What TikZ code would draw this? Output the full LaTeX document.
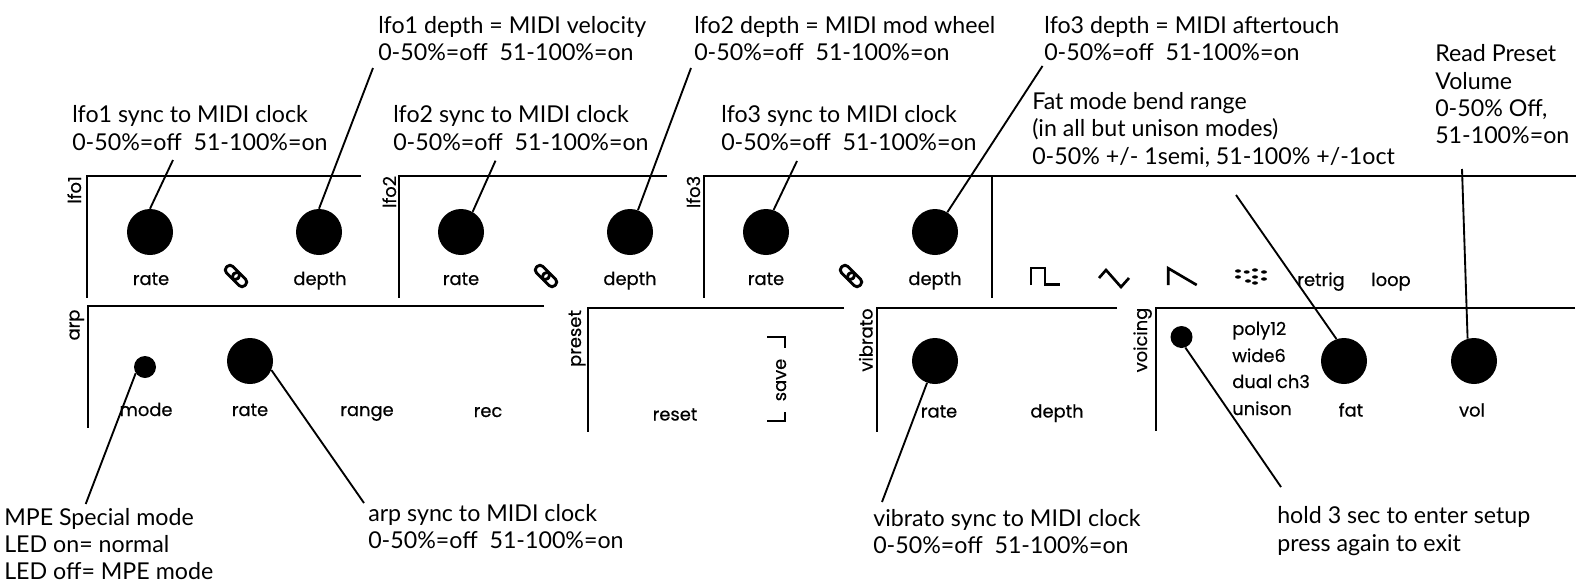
\documentclass[tikz,border=0pt]{standalone}
\usepackage{fontspec}
\setmainfont{Lato}
\newfontfamily\labfont[FakeBold=0.5]{Poppins}
\begin{document}
\begin{tikzpicture}[x=0.75pt,y=-0.75pt,
  frame/.style={line width=1.8pt,line cap=butt},
  conn/.style={line width=1.4pt},
  knob/.style={circle,fill=black,minimum size=34.5pt,inner sep=0pt},
  led/.style={circle,fill=black,minimum size=16.5pt,inner sep=0pt},
  note/.style={anchor=west,align=left,inner sep=0pt,font=\fontsize{17.4}{20.5}\selectfont},
  lab/.style={inner sep=0pt,anchor=base,font=\labfont\fontsize{13.4}{15}\selectfont},
  sect/.style={lab,rotate=90},
  wave/.style={line width=2pt},
  link/.style={line width=2.2pt,rounded corners=3pt}]
\useasboundingbox (0,0) rectangle (1576,582);
% frames
\draw[frame] (361,176) -- (87,176) -- (87,298);
\draw[frame] (667,176) -- (399,176) -- (399,298);
\draw[frame] (1576,176) -- (704,176) -- (704,298);
\draw[frame] (992,176) -- (992,298);
\draw[frame] (544,306) -- (88,306) -- (88,428);
\draw[frame] (844,308) -- (588,308) -- (588,432);
\draw[frame] (1117,308) -- (877,308) -- (877,432);
\draw[frame] (1575,308) -- (1156,308) -- (1156,431);
% section labels
\node[sect] (slfo1) at (81,190) {lfo1};
\node[sect] (slfo2) at (396,192) {lfo2};
\node[sect] (slfo3) at (700,192) {lfo3};
\node[sect] (sarp) at (79.5,325) {arp};
\node[sect] (spreset) at (581,338.5) {preset};
\node[sect] (svib) at (872.5,340) {vibrato};
\node[sect] (svoice) at (1147,340) {voicing};
% knobs
\node[knob] (k1) at (150,232) {};
\node[knob] (k2) at (319,232) {};
\node[knob] (k3) at (461,232) {};
\node[knob] (k4) at (630,232) {};
\node[knob] (k5) at (766,232) {};
\node[knob] (k6) at (935,232) {};
\node[knob] (k7) at (250,361) {};
\node[knob] (k8) at (935,361) {};
\node[knob] (k9) at (1344,361) {};
\node[knob] (k10) at (1474,361) {};
\node[led] (l1) at (145,367) {};
\node[led] (l2) at (1181.5,337) {};
% control labels
\node[lab] (t1) at (151,285) {rate};
\node[lab] (t2) at (320,285) {depth};
\node[lab] (t3) at (461,285) {rate};
\node[lab] (t4) at (630,285) {depth};
\node[lab] (t5) at (766,285) {rate};
\node[lab] (t6) at (935,285) {depth};
\node[lab] (t7) at (146,416) {mode};
\node[lab] (t8) at (250,416) {rate};
\node[lab] (t9) at (367,416) {range};
\node[lab] (t10) at (488,417) {rec};
\node[lab] (t11) at (675,420.5) {reset};
\node[sect] (t12) at (786,380) {save};
\node[lab] (t13) at (939,417.5) {rate};
\node[lab] (t14) at (1057,417.5) {depth};
\node[lab] (t15) at (1321,286) {retrig};
\node[lab] (t16) at (1391,286) {loop};
\node[lab,anchor=base west] (t17) at (1232,335) {poly12};
\node[lab,anchor=base west] (t18) at (1232,362) {wide6};
\node[lab,anchor=base west] (t19) at (1232,388) {dual ch3};
\node[lab,anchor=base west] (t20) at (1232,415) {unison};
\node[lab] (t21) at (1351,416.5) {fat};
\node[lab] (t22) at (1472,416.5) {vol};
% save brackets
\draw[wave] (767,337) -- (785,337) -- (785,348);
\draw[wave] (767,421) -- (785,421) -- (785,412);
% link icons
\foreach \x in {236,546,851}{
  \begin{scope}[shift={(\x,276)},rotate=-45]
    \draw[link] (-13,-4.5) rectangle (3,4.5);
    \draw[link] (-3,-4.5) rectangle (13,4.5);
  \end{scope}
}
% wave icons
\draw[wave] (1031,285) -- (1031,268) -- (1045,268) -- (1045,284.5) -- (1060,284.5);
\draw[wave] (1099,278) -- (1106,270) -- (1121,287) -- (1129,278);
\draw[wave] (1168.3,285) -- (1168.3,268.3) -- (1196.7,285);
\foreach \dx/\dy in {1238/271,1238/277,1246.7/272,1255/270,1255/277,1248/281,1255/283,1264/272,1264/279}{
  \fill (\dx,\dy) ellipse (3 and 1.7);
}
% notes
\node[note] (n1) at (72,128) {lfo1 sync to MIDI clock\\0-50\%=off\ \ 51-100\%=on};
\node[note] (n2) at (378,38.5) {lfo1 depth = MIDI velocity\\0-50\%=off\ \ 51-100\%=on};
\node[note] (n3) at (393,128) {lfo2 sync to MIDI clock\\0-50\%=off\ \ 51-100\%=on};
\node[note] (n4) at (694,38.5) {lfo2 depth = MIDI mod wheel\\0-50\%=off\ \ 51-100\%=on};
\node[note] (n5) at (721,128) {lfo3 sync to MIDI clock\\0-50\%=off\ \ 51-100\%=on};
\node[note] (n6) at (1044,38.3) {lfo3 depth = MIDI aftertouch\\0-50\%=off\ \ 51-100\%=on};
\node[note] (n7) at (1032,130) {Fat mode bend range\\(in all but unison modes)\\0-50\% +/- 1semi, 51-100\% +/-1oct};
\node[note] (n8) at (1435,94.3) {Read Preset\\Volume\\0-50\% Off,\\51-100\%=on};
\node[note] (n9) at (4,544) {MPE Special mode\\LED on= normal\\LED off= MPE mode};
\node[note] (n10) at (368,526.7) {arp sync to MIDI clock\\0-50\%=off\ \ 51-100\%=on};
\node[note] (n11) at (873,531.5) {vibrato sync to MIDI clock\\0-50\%=off\ \ 51-100\%=on};
\node[note] (n12) at (1277,531) {hold 3 sec to enter setup\\press again to exit};
% connector ends
\coordinate (e1) at (173,160);
\coordinate (e2) at (373,68);
\coordinate (e3) at (495.5,160.7);
\coordinate (e4) at (691,68);
\coordinate (e5) at (797,161);
\coordinate (e6) at (1042.5,66);
\coordinate (e9) at (1236,195);
\coordinate (e10) at (1462,169);
\coordinate (e11) at (85.7,504);
\coordinate (e12) at (364,503);
\coordinate (e13) at (882,502);
\coordinate (e14) at (1281,487);
\draw[conn] (k1.90) -- (e1);
\draw[conn] (k2.90) -- (e2);
\draw[conn] (k3.60) -- (e3);
\draw[conn] (k4.70) -- (e4);
\draw[conn] (k5.71) -- (e5);
\draw[conn] (k6.58) -- (e6);
\draw[conn] (k9.109) -- (e9);
\draw[conn] (k10.106) -- (e10);
\draw[conn] (l1.214) -- (e11);
\draw[conn] (k7.-23) -- (e12);
\draw[conn] (k8.-110) -- (e13);
\draw[conn] (l2.-70) -- (e14);
\end{tikzpicture}
\end{document}
